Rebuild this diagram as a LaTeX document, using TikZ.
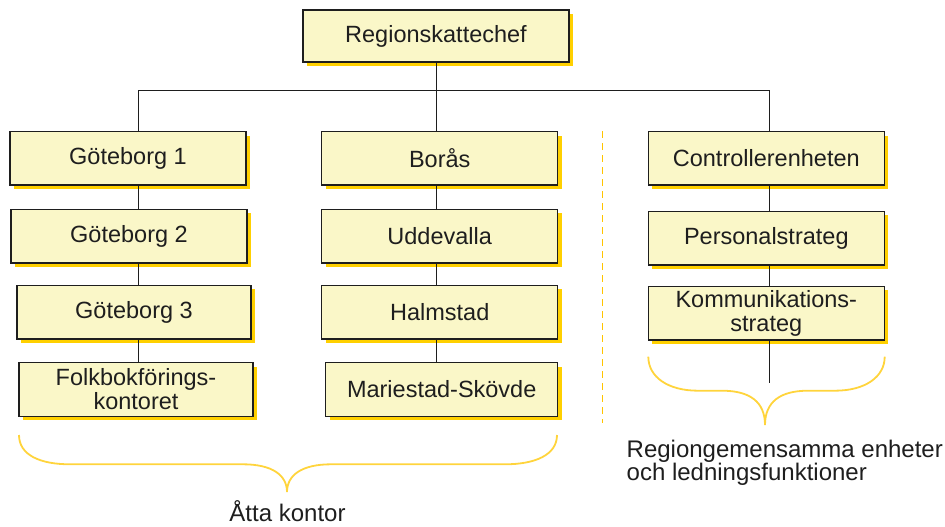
\documentclass[tikz,border=0pt]{standalone}
\usepackage{fontspec}
\setmainfont{Liberation Sans}
\usetikzlibrary{positioning, shadows}

\definecolor{boxfill}{RGB}{250,247,200}
\definecolor{shadowgold}{RGB}{255,208,0}
\definecolor{braceyellow}{RGB}{255,212,60}
\definecolor{dashorange}{RGB}{255,196,0}
\definecolor{inkgray}{RGB}{30,30,30}

\begin{document}
\begin{tikzpicture}[
  x=1pt, y=-1pt,
  font=\fontsize{23.5}{24}\selectfont,
  node distance = 22pt,
  line width=1.4pt,
  % Define block styles
  unitblock/.style={
    draw=inkgray,
    fill=boxfill,
    minimum width=236pt,
    minimum height=53.5pt,
    inner sep=0pt,
    align=center,
    text=inkgray,
    drop shadow={shadow xshift=4pt, shadow yshift=-4pt, fill=shadowgold, opacity=1}
  },
  headblock/.style={
    unitblock,
    minimum width=266pt,
    minimum height=52pt
  },
  % Lines and braces
  connector/.style={
    draw=inkgray,
    line width=1.4pt
  },
  divider/.style={
    draw=dashorange,
    line width=1.6pt,
    dash pattern=on 7pt off 5pt
  },
  bracecurve/.style={
    draw=braceyellow,
    line width=1.8pt
  },
  caption/.style={
    inner sep=0pt,
    text=inkgray,
    align=left,
    font=\fontsize{24}{23.5}\selectfont
  }
]

\useasboundingbox (0,0) rectangle (945,527);

% -----------------------------------------------
% HEAD OF REGION
% -----------------------------------------------
\node[headblock] (chef) at (436,36) {Regionskattechef};

% -----------------------------------------------
% OFFICES, FIRST COLUMN
% -----------------------------------------------
\node[unitblock] (gbg1) at (128,158.3) {Göteborg 1};
\node[unitblock, below=23pt of gbg1, xshift=1pt] (gbg2) {Göteborg 2};
\node[unitblock, below=21pt of gbg2, xshift=5pt, minimum width=234pt] (gbg3) {Göteborg 3};
\node[unitblock, below=22.5pt of gbg3, xshift=2pt, minimum width=234pt] (folk) {Folkbokförings-\\kontoret};

% -----------------------------------------------
% OFFICES, SECOND COLUMN
% -----------------------------------------------
\node[unitblock] (boras) at (439.7,158.3) {Borås};
\node[unitblock, below=23pt of boras] (udde) {Uddevalla};
\node[unitblock, below=21pt of udde] (halm) {Halmstad};
\node[unitblock, below=22.5pt of halm, xshift=2pt, minimum width=232pt] (mskov) {Mariestad-Skövde};

% -----------------------------------------------
% SHARED UNITS
% -----------------------------------------------
\node[unitblock] (ctrl) at (766.3,158.3) {Controllerenheten};
\node[unitblock, below=25pt of ctrl] (pers) {Personalstrateg};
\node[unitblock, below=20pt of pers] (komm) {Kommunikations-\\strateg};

% -----------------------------------------------
% CONNECTIONS
% -----------------------------------------------
\coordinate (bus) at (0,90.7);
\coordinate (spineA) at (138.3,0);
\coordinate (spineB) at (436.7,0);
\coordinate (spineC) at (769.3,0);
\coordinate (tailC) at (769.3,383.3);

\draw[connector] (chef.south -| spineB) -- (boras.north -| spineB);
\draw[connector] (gbg1.north -| spineA) -- (spineA |- bus) -- (spineC |- bus) -- (ctrl.north -| spineC);

\foreach \upper/\lower/\spine in {gbg1/gbg2/spineA, gbg2/gbg3/spineA, gbg3/folk/spineA,
    boras/udde/spineB, udde/halm/spineB, halm/mskov/spineB,
    ctrl/pers/spineC, pers/komm/spineC}
  \draw[connector] (\upper.south -| \spine) -- (\lower.north -| \spine);

\draw[connector] (komm.south -| spineC) -- (tailC);

% Dashed divider between offices and shared units
\coordinate (divTop) at (602.3,131);
\coordinate (divBot) at (602.3,423);
\draw[divider] (divTop) -- (divBot);

% -----------------------------------------------
% BRACES AND CAPTIONS
% -----------------------------------------------
\draw[bracecurve] (19,435) .. controls (19,455) and (40,464.3) .. (70,464.3)
  -- (243,464.3) .. controls (272,464.3) and (287,475) .. (287,492)
  .. controls (287,475) and (302,464.3) .. (331,464.3)
  -- (505,464.3) .. controls (535,464.3) and (557,455) .. (557,435);

\draw[bracecurve] (648.3,356.7) .. controls (648.3,377) and (668,390.7) .. (698,390.7)
  -- (722,390.7) .. controls (750,390.7) and (765,402) .. (765,425)
  .. controls (765,402) and (780,390.7) .. (808,390.7)
  -- (835,390.7) .. controls (865,390.7) and (884.7,377) .. (884.7,356.7);

\node[caption, anchor=base] (eightoffices) at (287.5,521.7) {Åtta kontor};
% base anchor sits on the last line here
\node[caption, anchor=base west] (sharedunits) at (626,480.7) {Regiongemensamma enheter\\och ledningsfunktioner};

\end{tikzpicture}
\end{document}
